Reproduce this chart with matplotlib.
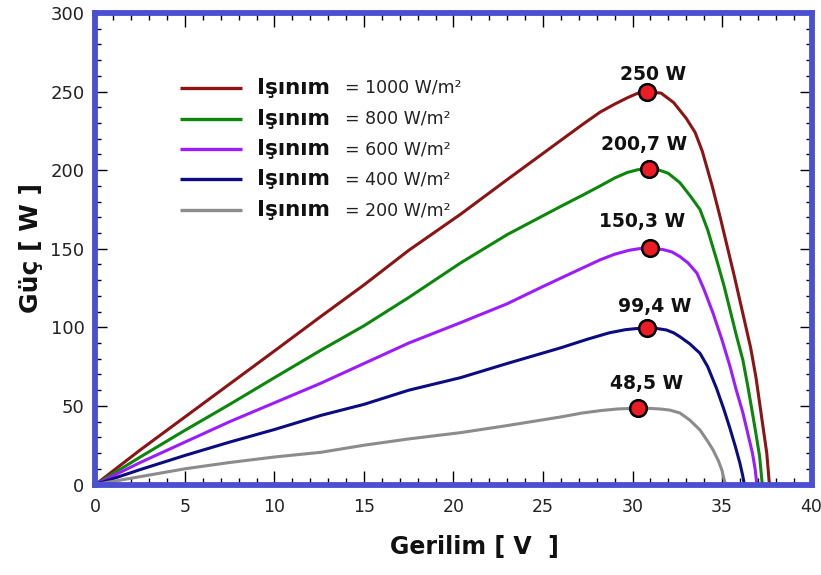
import matplotlib
matplotlib.use("Agg")
import matplotlib.pyplot as plt
from matplotlib.ticker import MultipleLocator

# Irradiance levels (W/m²) and their curve colours
irradiance = [1000, 800, 600, 400, 200]
colors = ["#8b1414", "#0b870b", "#9b1cff", "#0c0c82", "#8c8c8c"]

# P-V curves: voltage (V) and power (W) for each irradiance level
v_1000 = [0, 2.5, 5, 7.5, 10, 12.6, 15, 17.5, 20.4, 23, 26, 27.2, 28.2, 29.0,
          29.7, 30.3, 30.8, 31.6, 32.3, 33.0, 33.5, 33.9, 34.45, 34.9, 35.3,
          35.7, 36.0, 36.3, 36.6, 36.9, 37.1, 37.3, 37.5, 37.65]
p_1000 = [0, 22, 43, 64, 85, 107, 127, 149, 172, 194, 219, 229, 237, 242,
          246, 249, 250, 249, 243, 233, 224, 212, 190, 170, 151,
          132, 117, 102, 87, 68, 52, 36, 20, 0]

v_800 = [0, 2.5, 5, 7.5, 10, 12.6, 15, 17.5, 20.4, 23, 26, 27.2, 28.2, 29.0,
         29.7, 30.3, 30.9, 31.5, 32.0, 32.65, 33.2, 33.77, 34.2, 34.7, 35.1,
         35.45, 35.8, 36.17, 36.45, 36.7, 36.9, 37.1, 37.25]
p_800 = [0, 17.5, 34.5, 51, 68, 85.5, 101, 119, 141, 159, 177, 184, 190, 195,
         198.5, 200.3, 200.7, 200, 198, 192, 184, 175, 162, 143, 127,
         111, 95, 79, 62, 45.5, 32, 18, 0]

v_600 = [0, 2.5, 5, 7.5, 10, 12.6, 15, 17.5, 20.4, 23, 25, 26.5, 28.2, 29.0,
         29.8, 30.4, 31.0, 31.7, 32.2, 32.65, 33.1, 33.6, 34.0, 34.5, 35.0,
         35.45, 35.8, 36.17, 36.45, 36.7, 36.85, 36.95]
p_600 = [0, 14, 27, 40, 52, 64.5, 77, 90, 103, 115, 126, 134, 143, 146.5,
         149, 150.1, 150.3, 149.5, 148, 145, 141, 134.5, 124, 109, 92,
         75, 60, 45.5, 32, 20, 10, 0]

v_400 = [0, 2.5, 5, 7.5, 10, 12.6, 15, 17.5, 20.4, 23, 26, 27.5, 28.7, 29.6,
         30.2, 30.8, 31.4, 31.9, 32.3, 32.65, 33.2, 33.77, 34.2, 34.7, 35.1,
         35.45, 35.75, 36.0, 36.15, 36.25]
p_400 = [0, 9.5, 18.5, 27, 35, 44, 51, 60, 68, 77, 87, 92.5, 96.5, 98.5,
         99.2, 99.4, 99.2, 98.3, 96.5, 94, 89.5, 83.5, 75, 61, 48,
         35.5, 24, 13.6, 6, 0]

v_200 = [0, 2.5, 5, 7.5, 10, 12.6, 15, 17.5, 20.4, 23, 26, 27.2, 28.2, 29.2,
         30.3, 31.0, 31.6, 32.1, 32.65, 33.2, 33.77, 34.2, 34.5, 34.8, 35.0,
         35.1, 35.2]
p_200 = [0, 5, 10, 14, 17.5, 20.5, 25, 29, 33, 37.5, 43, 45.5, 47, 48.1,
         48.5, 48.4, 48, 47.3, 45.5, 41, 34.7, 27.5, 22, 15, 9,
         4, 0]

voltages = [v_1000, v_800, v_600, v_400, v_200]
powers = [p_1000, p_800, p_600, p_400, p_200]

# Maximum power points
peak_v = [30.8, 30.9, 31.0, 30.8, 30.3]
peak_p = [250, 200.7, 150.3, 99.4, 48.5]

# Offsets (in pixels) of each peak label from its marker
label_offsets = [(6, 17), (-5, 25), (-8, 27), (8, 22), (9, 25)]

x_ticks = [0, 5, 10, 15, 20, 25, 30, 35, 40]
y_ticks = [0, 50, 100, 150, 200, 250, 300]

frame_color = "#4b50d2"
text_color = "#111111"

fig = plt.figure(figsize=(8.21, 5.75), dpi=100)
ax = fig.add_axes([0.11632, 0.15739, 0.87211, 0.82])

for v, p, c in zip(voltages, powers, colors):
    ax.plot(v, p, color=c, lw=2.2, solid_joinstyle="round", zorder=3)

ax.plot(peak_v, peak_p, "o", ms=12, mfc="#ec1c24", mec="black", mew=1.8,
        zorder=5, linestyle="none")

for vx, py, (dx, dy) in zip(peak_v, peak_p, label_offsets):
    txt = f"{py:g}".replace(".", ",") + " W"
    ax.annotate(txt, (vx, py), xytext=(dx * 0.72, dy * 0.72),
                textcoords="offset points", ha="center", va="center",
                fontsize=13.5, fontweight="bold", family="DejaVu Sans",
                color=text_color, zorder=6)

# Hand-laid legend block
row_y = [0.841, 0.776, 0.711, 0.647, 0.582]
for yy, irr, c in zip(row_y, irradiance, colors):
    ax.plot([0.118, 0.2046], [yy, yy], transform=ax.transAxes, color=c,
            lw=2.4, solid_capstyle="butt", zorder=4)
    ax.text(0.2255, yy, "Işınım", transform=ax.transAxes, ha="left",
            va="center", fontsize=15.5, fontweight="bold",
            family="DejaVu Sans", color=text_color)
    ax.text(0.348, yy, f"= {irr} W/m²", transform=ax.transAxes, ha="left",
            va="center", fontsize=12.5, family="DejaVu Sans", color="#222222")

ax.set_xlim(0, 40)
ax.set_ylim(0, 300)
ax.set_xticks(x_ticks)
ax.set_yticks(y_ticks)
ax.xaxis.set_minor_locator(MultipleLocator(1))
ax.yaxis.set_minor_locator(MultipleLocator(10))
ax.tick_params(which="both", direction="in", top=True, right=True,
               color="black", width=1)
ax.tick_params(axis="x", which="major", length=10, pad=10, labelsize=12.5)
ax.tick_params(axis="x", which="minor", length=5)
ax.tick_params(axis="y", which="major", length=8.5, pad=8, labelsize=13)
ax.tick_params(axis="y", which="minor", length=4)
for lab in ax.get_xticklabels() + ax.get_yticklabels():
    lab.set_color("#222222")

for s in ax.spines.values():
    s.set_color(frame_color)
    s.set_linewidth(4.2)
    s.set_zorder(7)

ax.set_xlabel("Gerilim [ V  ]", fontsize=17, fontweight="bold",
              family="DejaVu Sans", color=text_color)
ax.xaxis.set_label_coords(0.529, -0.107)
ax.set_ylabel("Güç [ W ]", fontsize=18, fontweight="bold",
              family="DejaVu Sans", color=text_color)
ax.yaxis.set_label_coords(-0.074, 0.502)

fig.savefig("out.png", dpi=100)
